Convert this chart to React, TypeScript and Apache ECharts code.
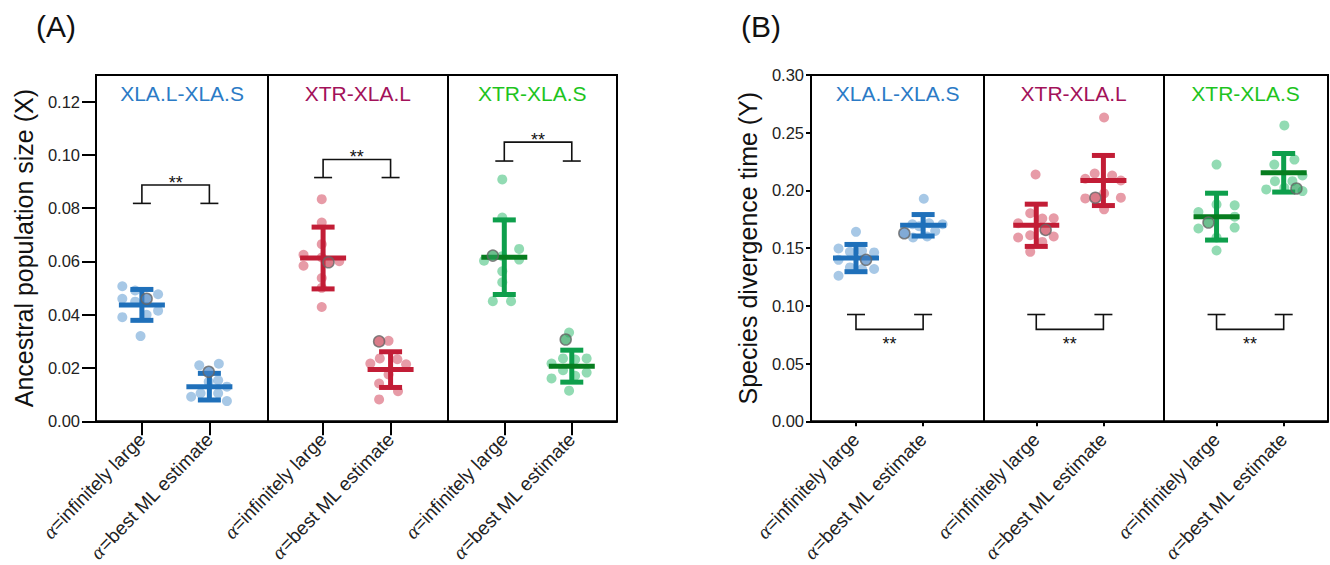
import React, { useEffect, useRef } from "react";
import * as echarts from "echarts";

const FONT = "'Liberation Sans', Arial, Helvetica, sans-serif";

// ---- categories / labels ----
const pairNames = ["XLA.L-XLA.S", "XTR-XLA.L", "XTR-XLA.S"];
const conditionLabels = ["α=infinitely large", "α=best ML estimate"];
const xPositions = [0, 1, 2.685, 3.685, 5.37, 6.37];
const popTicks = [0, 0.02, 0.04, 0.06, 0.08, 0.1, 0.12];
const divTicks = [0, 0.05, 0.1, 0.15, 0.2, 0.25, 0.3];

// ---- Panel A: ancestral population size (X) ----
const popValues = [
  [0.0507, 0.0491, 0.0477, 0.046, 0.0415, 0.0391, 0.04, 0.032, 0.0449],
  [0.021, 0.0216, 0.0148, 0.0154, 0.013, 0.0105, 0.0105, 0.0092, 0.0076],
  [0.0834, 0.0746, 0.0665, 0.0625, 0.0584, 0.0601, 0.0538, 0.0501, 0.0429, 0.0615],
  [0.0302, 0.0217, 0.0236, 0.0233, 0.0214, 0.0176, 0.0142, 0.0113, 0.0082],
  [0.0908, 0.0765, 0.0647, 0.0603, 0.0607, 0.0563, 0.0522, 0.0451, 0.0451, 0.062],
  [0.0333, 0.0217, 0.0236, 0.0232, 0.0236, 0.0192, 0.0183, 0.0161, 0.0171, 0.0115],
];
const popJitter = [
  [-0.29, -0.1, 0.24, -0.29, 0.24, -0.29, 0.07, -0.02, -0.1],
  [-0.15, 0.14, -0.01, 0.13, 0.26, -0.13, 0.13, -0.27, 0.26],
  [-0.02, -0.02, -0.02, -0.29, -0.29, 0.24, -0.02, -0.02, -0.02, -0.02],
  [-0.03, -0.3, -0.16, 0.1, 0.23, -0.03, -0.17, 0.11, -0.17],
  [-0.03, -0.03, 0.22, -0.3, 0.22, -0.03, -0.03, -0.17, 0.1, -0.03],
  [-0.04, -0.3, -0.13, 0.05, 0.22, -0.13, 0.22, -0.3, 0.05, -0.04],
];
const popHighlight = [
  [0.07, 0.046],
  [-0.01, 0.0186],
  [0.08, 0.0597],
  [-0.17, 0.03],
  [-0.17, 0.0622],
  [-0.09, 0.0307],
];
const popMean = [0.0437, 0.013, 0.0613, 0.0194, 0.0616, 0.0207];
const popSD = [0.0058, 0.005, 0.0116, 0.0067, 0.014, 0.006];
const popBracketFoot = [0.0818, 0.0915, 0.0977];
const popBracketBar = [0.0887, 0.0983, 0.1048];

// ---- Panel B: species divergence time (Y) ----
const divValues = [
  [0.1641, 0.1497, 0.1468, 0.1477, 0.1463, 0.1399, 0.1333, 0.1319, 0.1319, 0.1261],
  [0.1928, 0.1707, 0.1716, 0.1707, 0.1592, 0.1601, 0.1649, 0.169],
  [0.2138, 0.1802, 0.1756, 0.1759, 0.1716, 0.1612, 0.1592, 0.1601, 0.1554, 0.1468],
  [0.2632, 0.2147, 0.2129, 0.2101, 0.2086, 0.1974, 0.1931, 0.1937, 0.1836],
  [0.2224, 0.1879, 0.1871, 0.1813, 0.1773, 0.167, 0.1678, 0.1592, 0.148],
  [0.2563, 0.2224, 0.2267, 0.2129, 0.208, 0.208, 0.2009, 0.1994, 0.2023],
];
const divJitter = [
  [0, -0.26, -0.09, 0.09, 0.27, -0.26, -0.09, 0.09, 0.27, -0.26],
  [0.01, -0.16, 0.09, 0.29, -0.15, 0.06, 0.18, -0.06],
  [-0.01, -0.09, 0.09, 0.26, -0.27, -0.09, -0.27, 0.26, 0.09, -0.09],
  [0.01, -0.13, 0.13, -0.27, 0.26, 0.01, -0.27, 0.26, 0.01],
  [0, 0, 0.27, -0.27, 0.27, -0.27, 0.27, 0, 0],
  [0.01, -0.14, 0.16, 0.28, -0.13, 0.13, -0.26, 0.28, 0.01],
];
const divHighlight = [
  [0.15, 0.1399],
  [-0.28, 0.1629],
  [0.14, 0.1658],
  [-0.12, 0.1937],
  [-0.12, 0.1722],
  [0.19, 0.2017],
];
const divMean = [0.1414, 0.1698, 0.1698, 0.2086, 0.1773, 0.2153];
const divSD = [0.0118, 0.0093, 0.0183, 0.0217, 0.0203, 0.0167];
const divBracketFoot = [0.0925, 0.0925, 0.0925];
const divBracketBar = [0.0796, 0.0796, 0.0796];

// ---- styles ----
const titleColors = ["#2b7bc6", "#a3125a", "#1ec41e"];
const pointColors = ["rgba(108,163,214,0.75)", "rgba(212,76,98,0.7)", "rgba(60,190,120,0.7)"];
const barColors = ["#1f70ba", "#c21d36", "#0e9f4c"];
const meanColors = ["#1f70ba", "#c21d36", "#077d1f"];
const highlightColors = ["rgba(70,130,195,0.85)", "rgba(200,60,80,0.85)", "rgba(40,160,90,0.85)"];

function errRender(color: string, meanColor: string) {
  return (params: any, api: any) => {
    const x = api.value(0);
    const m = api.value(1);
    const s = api.value(2);
    const c = api.coord([x, m]);
    const h = api.coord([x, m + s]);
    const l = api.coord([x, m - s]);
    const st = { stroke: color, lineWidth: 5 };
    return {
      type: "group",
      children: [
        { type: "line", shape: { x1: c[0], y1: h[1], x2: c[0], y2: l[1] }, style: st },
        { type: "line", shape: { x1: c[0] - 11.5, y1: h[1], x2: c[0] + 11.5, y2: h[1] }, style: st },
        { type: "line", shape: { x1: c[0] - 11.5, y1: l[1], x2: c[0] + 11.5, y2: l[1] }, style: st },
        {
          type: "line",
          shape: { x1: c[0] - 23, y1: c[1], x2: c[0] + 23, y2: c[1] },
          style: { stroke: meanColor, lineWidth: 5 },
        },
      ],
    };
  };
}

function bracketRender(params: any, api: any) {
  const xl = api.value(0);
  const xr = api.value(1);
  const foot = api.value(2);
  const bar = api.value(3);
  const lf = api.coord([xl, foot]);
  const rf = api.coord([xr, foot]);
  const lb = api.coord([xl, bar]);
  const rb = api.coord([xr, bar]);
  const st = { stroke: "#111", lineWidth: 1.6 };
  const up = bar > foot;
  return {
    type: "group",
    children: [
      { type: "line", shape: { x1: lf[0] - 9, y1: lf[1], x2: lf[0] + 9, y2: lf[1] }, style: st },
      { type: "line", shape: { x1: rf[0] - 9, y1: rf[1], x2: rf[0] + 9, y2: rf[1] }, style: st },
      { type: "polyline", shape: { points: [[lf[0], lf[1]], [lb[0], lb[1]], [rb[0], rb[1]], [rf[0], rf[1]]] }, style: { ...st, fill: "none" } },
      {
        type: "text",
        x: (lb[0] + rb[0]) / 2,
        y: up ? lb[1] - 2 : lb[1] + 15,
        style: {
          text: "**",
          fontSize: 18,
          fontFamily: FONT,
          fill: "#111",
          align: "center",
          verticalAlign: "middle",
        },
      },
    ],
  };
}

function titleRender(params: any, api: any) {
  const p = api.coord([api.value(0), api.value(1)]);
  const i = params.dataIndex;
  return {
    type: "text",
    x: p[0],
    y: p[1] + 18,
    style: {
      text: pairNames[i],
      fontSize: 21,
      fontFamily: FONT,
      fill: titleColors[i],
      align: "center",
      verticalAlign: "middle",
    },
  };
}

function buildPanel(
  g: number,
  values: number[][],
  jitter: number[][],
  highlight: number[][],
  mean: number[],
  sd: number[],
  bFoot: number[],
  bBar: number[],
  yMax: number,
  bounds: number[]
) {
  const series: any[] = [];
  for (let p = 0; p < 3; p++) {
    const pts: number[][] = [];
    for (let k = 0; k < 2; k++) {
      const gi = p * 2 + k;
      values[gi].forEach((v, j) => pts.push([xPositions[gi] + jitter[gi][j], v]));
    }
    const s: any = {
      type: "scatter",
      xAxisIndex: g,
      yAxisIndex: g,
      symbolSize: 10,
      z: 2,
      itemStyle: { color: pointColors[p] },
      data: pts,
      silent: true,
    };
    if (p === 0) {
      s.markLine = {
        silent: true,
        symbol: "none",
        label: { show: false },
        lineStyle: { color: "#000", width: 2, type: "solid" },
        data: [{ xAxis: bounds[1] }, { xAxis: bounds[2] }],
      };
    }
    series.push(s);
  }
  for (let p = 0; p < 3; p++) {
    series.push({
      type: "custom",
      xAxisIndex: g,
      yAxisIndex: g,
      z: 3,
      renderItem: errRender(barColors[p], meanColors[p]),
      data: [0, 1].map((k) => [xPositions[p * 2 + k], mean[p * 2 + k], sd[p * 2 + k]]),
      encode: { x: 0, y: 1 },
      silent: true,
    });
  }
  for (let p = 0; p < 3; p++) {
    series.push({
      type: "scatter",
      xAxisIndex: g,
      yAxisIndex: g,
      symbolSize: 11,
      z: 4,
      itemStyle: { color: highlightColors[p], borderColor: "#666", borderWidth: 1.5 },
      data: [0, 1].map((k) => [xPositions[p * 2 + k] + highlight[p * 2 + k][0], highlight[p * 2 + k][1]]),
      silent: true,
    });
  }
  series.push({
    type: "custom",
    xAxisIndex: g,
    yAxisIndex: g,
    z: 5,
    renderItem: bracketRender,
    data: [0, 1, 2].map((p) => [xPositions[p * 2], xPositions[p * 2 + 1], bFoot[p], bBar[p]]),
    encode: { x: 0, y: 2 },
    silent: true,
  });
  series.push({
    type: "custom",
    xAxisIndex: g,
    yAxisIndex: g,
    z: 5,
    renderItem: titleRender,
    data: [0, 1, 2].map((p) => [(bounds[p] + bounds[p + 1]) / 2, yMax]),
    encode: { x: 0, y: 1 },
    silent: true,
  });
  return series;
}

function xAxisFor(g: number, min: number, max: number, tickLen: number) {
  return {
    type: "value",
    gridIndex: g,
    min,
    max,
    splitLine: { show: false },
    axisLine: { show: true, onZero: false, lineStyle: { color: "#000", width: 2 } },
    axisTick: { show: true, customValues: xPositions, length: tickLen, lineStyle: { color: "#000", width: 2 } },
    axisLabel: {
      customValues: xPositions,
      rotate: 46,
      margin: 15,
      color: "#222",
      formatter: (v: number) => {
        let i = 0;
        xPositions.forEach((p, k) => {
          if (Math.abs(p - v) < 1e-6) i = k;
        });
        const lab = conditionLabels[i % 2];
        return "{a|" + lab[0] + "}{b|" + lab.slice(1) + "}";
      },
      rich: {
        a: { fontFamily: "'Liberation Serif', 'DejaVu Serif', serif", fontStyle: "italic", fontSize: 20, color: "#222" },
        b: { fontFamily: FONT, fontSize: 19, color: "#222" },
      },
    },
  };
}

function yAxisFor(g: number, max: number, ticks: number[], tickLen: number, margin: number, name: string, gap: number) {
  return {
    type: "value",
    gridIndex: g,
    min: 0,
    max,
    name,
    nameLocation: "middle",
    nameGap: gap,
    nameTextStyle: { fontSize: 25, fontFamily: FONT, color: "#111" },
    splitLine: { show: false },
    axisLine: { show: true, onZero: false, lineStyle: { color: "#000", width: 2 } },
    axisTick: { show: true, customValues: ticks, length: tickLen, lineStyle: { color: "#000", width: 2 } },
    axisLabel: {
      customValues: ticks,
      margin,
      fontSize: 16.5,
      fontFamily: FONT,
      color: "#222",
      formatter: (v: number) => v.toFixed(2),
    },
  };
}

export default function App() {
  const ref = useRef<HTMLDivElement>(null);
  useEffect(() => {
    if (!ref.current) return;
    const chart = echarts.init(ref.current, undefined, { renderer: "svg" });
    const boundsA = [-0.68, 1.87, 4.53, 7.04];
    const boundsB = [-0.67, 1.91, 4.575, 7.03];
    const option: any = {
      animation: false,
      backgroundColor: "#fff",
      textStyle: { fontFamily: FONT },
      grid: [
        { left: 96, top: 75, width: 521, height: 348, show: true, borderColor: "#000", borderWidth: 2, containLabel: false },
        { left: 811, top: 75, width: 517, height: 348, show: true, borderColor: "#000", borderWidth: 2, containLabel: false },
      ],
      xAxis: [xAxisFor(0, boundsA[0], boundsA[3], 14), xAxisFor(1, boundsB[0], boundsB[3], 5)],
      yAxis: [
        yAxisFor(0, 0.13, popTicks, 14, 16, "Ancestral population size (X)", 60),
        yAxisFor(1, 0.3, divTicks, 5, 7, "Species divergence time (Y)", 51),
      ],
      graphic: [
        { type: "text", left: 36, top: 11, style: { text: "(A)", fontSize: 30, fontFamily: FONT, fill: "#111" } },
        { type: "text", left: 741, top: 11, style: { text: "(B)", fontSize: 30, fontFamily: FONT, fill: "#111" } },
      ],
      series: [
        ...buildPanel(0, popValues, popJitter, popHighlight, popMean, popSD, popBracketFoot, popBracketBar, 0.13, boundsA),
        ...buildPanel(1, divValues, divJitter, divHighlight, divMean, divSD, divBracketFoot, divBracketBar, 0.3, boundsB),
      ],
    };
    chart.setOption(option);
    return () => chart.dispose();
  }, []);
  return <div ref={ref} style={{ position: "absolute", left: 0, top: 0, width: 1330, height: 565 }} />;
}
